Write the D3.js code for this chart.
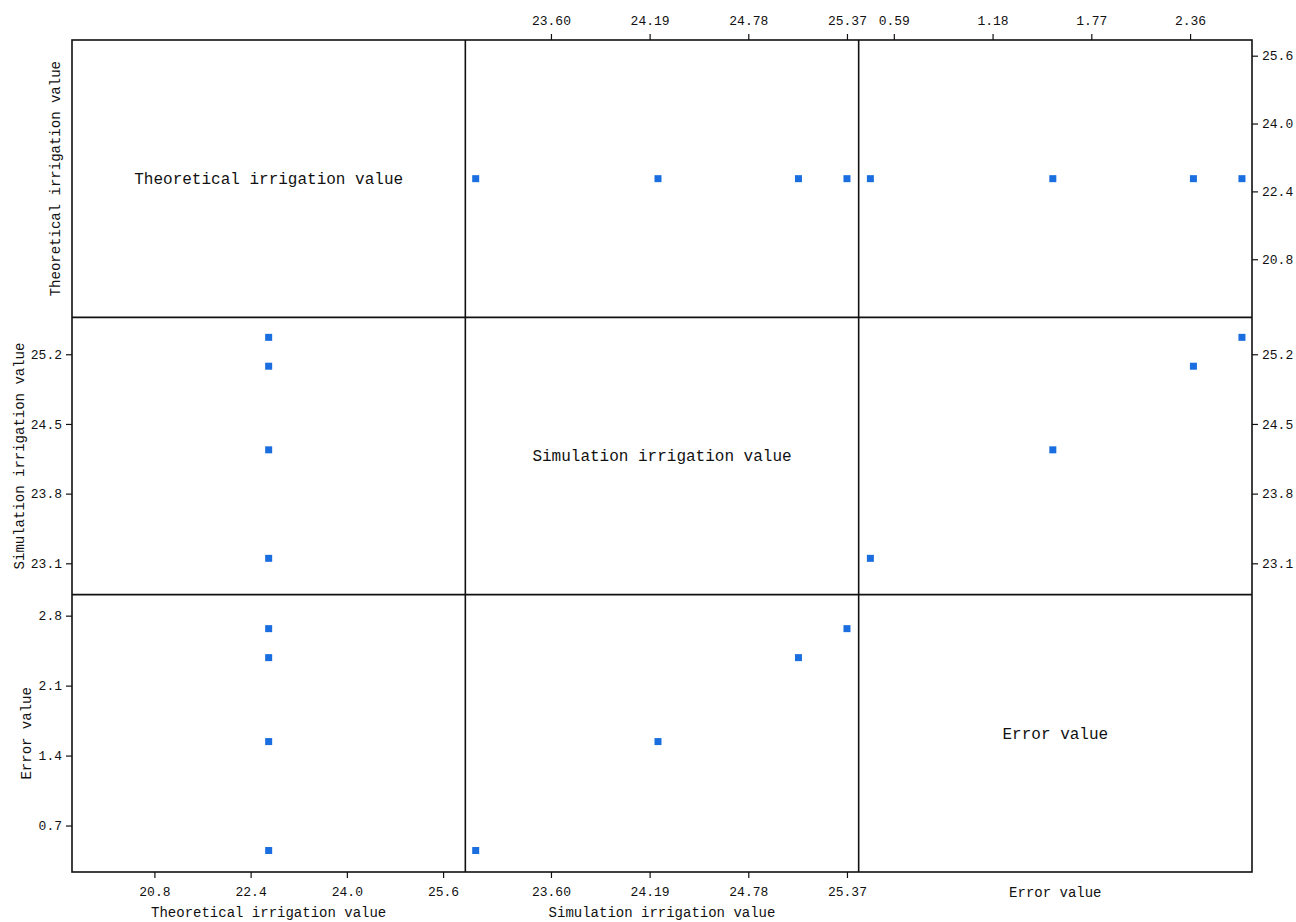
<!DOCTYPE html>
<html>
<head>
<meta charset="utf-8">
<script src="https://cdn.jsdelivr.net/npm/d3@7"></script>
<style>
  html, body { margin: 0; padding: 0; background: #fff; }
  svg { display: block; }
  text { font-family: "Liberation Mono", "DejaVu Sans Mono", monospace; fill: #111; }
</style>
</head>
<body>
<svg id="chart" width="1296" height="922"></svg>
<script>
// Variables shown in the scatter-plot matrix
const variables = ["Theoretical irrigation value", "Simulation irrigation value", "Error value"];

// Observations (four samples)
const theoretical = [22.7, 22.7, 22.7, 22.7];
const simulation  = [23.15, 24.24, 25.08, 25.37];
const errorValue  = [0.45, 1.54, 2.38, 2.67];

// Axis ranges for each variable (horizontal use / vertical use)
const xDomains = [[19.43, 25.97], [23.088, 25.44], [0.38, 2.73]];
const yDomains = [[19.43, 25.97], [22.785, 25.571], [0.235, 3.01]];

// Major tick labels
const xTicks = [[20.8, 22.4, 24.0, 25.6], [23.60, 24.19, 24.78, 25.37], [0.59, 1.18, 1.77, 2.36]];
const yTicks = [[20.8, 22.4, 24.0, 25.6], [23.1, 23.8, 24.5, 25.2], [0.7, 1.4, 2.1, 2.8]];
const xFormats = [".1f", ".2f", ".2f"];
const yFormats = [".1f", ".1f", ".1f"];

const series = [theoretical, simulation, errorValue];

const svg = d3.select("#chart");
const plot = { left: 72, right: 1252, top: 40, bottom: 872 };
const n = variables.length;
const cellW = (plot.right - plot.left) / n;
const cellH = (plot.bottom - plot.top) / n;
const markerColor = "#1a6ee0";
const markerSize = 7;

const xScales = xDomains.map((d, j) =>
  d3.scaleLinear().domain(d).range([plot.left + j * cellW, plot.left + (j + 1) * cellW]));
const yScales = yDomains.map((d, i) =>
  d3.scaleLinear().domain(d).range([plot.top + (i + 1) * cellH, plot.top + i * cellH]));

// Minor ticks sit halfway between major ticks
function minorTicks(majors, domain) {
  const m = majors.slice().sort((a, b) => a - b);
  const step = m[1] - m[0];
  const cands = [m[0] - step / 2].concat(m.map(v => v + step / 2));
  const lo = Math.min(domain[0], domain[1]), hi = Math.max(domain[0], domain[1]);
  return cands.filter(v => v > lo && v < hi);
}

function drawAxis(axisFn, scale, majors, fmt, transform, padding) {
  const g = svg.append("g").attr("transform", transform);
  g.call(axisFn(scale).tickValues(minorTicks(majors, scale.domain())).tickSize(3).tickFormat(""));
  g.call(axisFn(scale).tickValues(majors).tickSize(6).tickPadding(padding)
    .tickFormat(d3.format(fmt)));
  g.selectAll(".domain").remove();
  g.selectAll("line").attr("stroke", "#111").attr("stroke-width", 1.2);
  g.selectAll("text").style("font-size", "13px").attr("fill", "#111");
  return g;
}

// Scatter cells and diagonal labels
for (let i = 0; i < n; i++) {
  for (let j = 0; j < n; j++) {
    const cx = plot.left + (j + 0.5) * cellW;
    const cy = plot.top + (i + 0.5) * cellH;
    if (i === j) {
      svg.append("text")
        .attr("x", cx).attr("y", cy + 1)
        .attr("text-anchor", "middle")
        .attr("dominant-baseline", "middle")
        .style("font-size", "16px")
        .text(variables[i]);
      continue;
    }
    const xs = series[j], ys = series[i];
    svg.append("g").selectAll("rect")
      .data(xs.map((x, k) => ({ x, y: ys[k] })))
      .join("rect")
      .attr("x", d => xScales[j](d.x) - markerSize / 2)
      .attr("y", d => yScales[i](d.y) - markerSize / 2)
      .attr("width", markerSize)
      .attr("height", markerSize)
      .attr("fill", markerColor);
  }
}

// Axes around the matrix
[1, 2].forEach(j => drawAxis(d3.axisTop, xScales[j], xTicks[j], xFormats[j], `translate(0,${plot.top})`, 9));
[0, 1].forEach(j => drawAxis(d3.axisBottom, xScales[j], xTicks[j], xFormats[j], `translate(0,${plot.bottom})`, 9));
[1, 2].forEach(i => drawAxis(d3.axisLeft, yScales[i], yTicks[i], yFormats[i], `translate(${plot.left},0)`, 4));
[0, 1].forEach(i => drawAxis(d3.axisRight, yScales[i], yTicks[i], yFormats[i], `translate(${plot.right},0)`, 4));

// Frame and cell dividers
const frame = svg.append("g").attr("fill", "none").attr("stroke", "#111").attr("stroke-width", 1.6);
frame.append("rect")
  .attr("x", plot.left).attr("y", plot.top)
  .attr("width", plot.right - plot.left).attr("height", plot.bottom - plot.top);
for (let k = 1; k < n; k++) {
  frame.append("line")
    .attr("x1", plot.left + k * cellW).attr("x2", plot.left + k * cellW)
    .attr("y1", plot.top).attr("y2", plot.bottom);
  frame.append("line")
    .attr("x1", plot.left).attr("x2", plot.right)
    .attr("y1", plot.top + k * cellH).attr("y2", plot.top + k * cellH);
}

// Axis titles
const titleSize = "14px";
const bottomTitleY = [917, 917, 897];
variables.forEach((v, j) => {
  svg.append("text")
    .attr("x", plot.left + (j + 0.5) * cellW)
    .attr("y", bottomTitleY[j])
    .attr("text-anchor", "middle")
    .style("font-size", titleSize)
    .text(v);
});
const leftTitleX = [60, 24, 31];
variables.forEach((v, i) => {
  const cy = plot.top + (i + 0.5) * cellH;
  svg.append("text")
    .attr("transform", `translate(${leftTitleX[i]},${cy}) rotate(-90)`)
    .attr("text-anchor", "middle")
    .style("font-size", titleSize)
    .text(v);
});
</script>
</body>
</html>
